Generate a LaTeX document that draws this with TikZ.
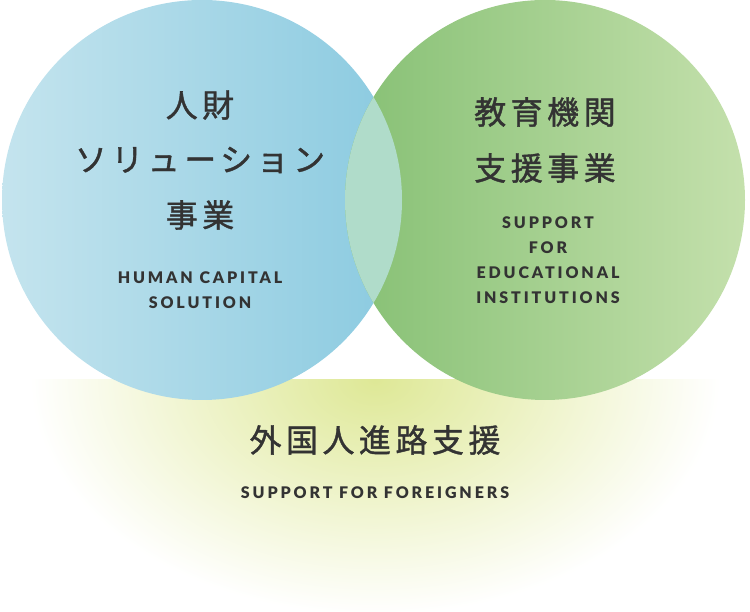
\documentclass[tikz,border=0pt]{standalone}
\usepackage{fontspec}
\newfontfamily\jp{Noto Sans CJK JP}[LetterSpace=14,FakeBold=1.2]
\newfontfamily\en{Lato Black}[LetterSpace=18]
\definecolor{txt}{HTML}{333333}
\begin{document}
\begin{tikzpicture}[x=1pt,y=1pt,
  jt/.style={font=\jp\fontsize{32}{32}\selectfont,text=txt,align=center},
  et/.style={font=\en\fontsize{16}{25}\selectfont,text=txt,align=center}]
\useasboundingbox (0,0) rectangle (750,612);
\begin{scope}
\clip (0,0) rectangle (750,232);
\shade[inner color={rgb,255:red,222;green,232;blue,150},outer color=white] (375,232) ellipse [x radius=345,y radius=235];
\end{scope}
\shade[left color={rgb,255:red,196;green,228;blue,238},right color={rgb,255:red,138;green,202;blue,224}] (202,412) circle (200);
\shade[left color={rgb,255:red,134;green,192;blue,116},right color={rgb,255:red,196;green,224;blue,172}] (545,412) circle (200);
\begin{scope}
\clip (202,412) circle (200);
\fill[color={rgb,255:red,176;green,220;blue,202}] (545,412) circle (200);
\end{scope}
\node[jt] (a1) at (200,507) {人財};
\node[jt] (a2) at (200,452) {ソリューション};
\node[jt] (a3) at (200,397) {事業};
\node[et] (a4) at (200,322) {HUMAN CAPITAL\\SOLUTION};
\node[jt] (b1) at (545,500) {教育機関};
\node[jt] (b2) at (545,444) {支援事業};
\node[et] (b3) at (548,352) {SUPPORT\\FOR\\EDUCATIONAL\\INSTITUTIONS};
\node[jt] (c1) at (375,172) {外国人進路支援};
\node[et] (c2) at (375,119) {SUPPORT FOR FOREIGNERS};
\end{tikzpicture}
\end{document}
